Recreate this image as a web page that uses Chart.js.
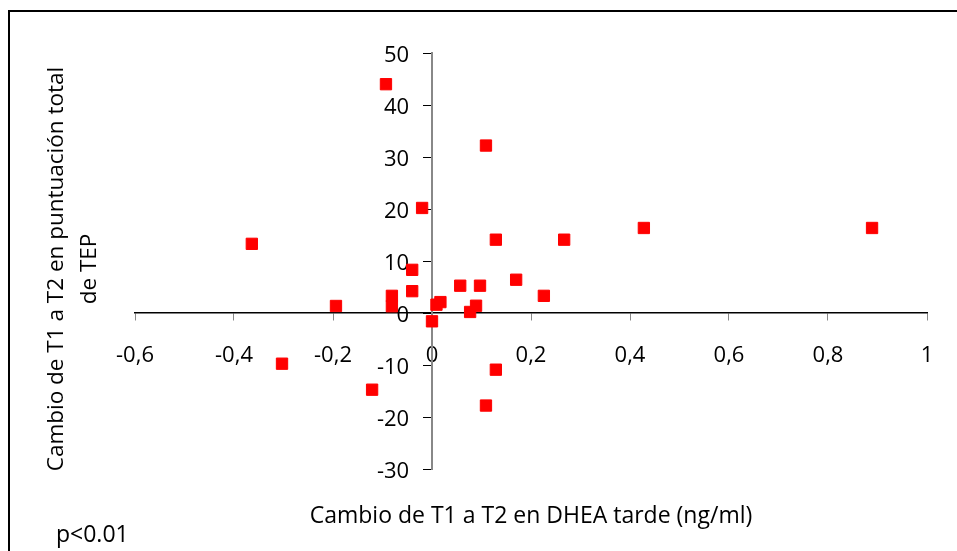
<!DOCTYPE html>
<html>
<head>
<meta charset="utf-8">
<script src="https://cdn.jsdelivr.net/npm/chart.js@4.4.1/dist/chart.umd.min.js"></script>
<style>
  html, body { margin: 0; padding: 0; background: #fff; }
  #wrap { position: relative; width: 957px; height: 551px; overflow: hidden; }
  #frame { position: absolute; left: 8px; top: 10px; width: 1000px; height: 600px; border: 2px solid #000; box-sizing: border-box; }
  canvas { position: absolute; left: 0; top: 0; }
  .txt { position: absolute; font-family: "Open Sans", sans-serif; font-size: 23px; color: #000; white-space: nowrap; }
  #ytitle { left: 71px; top: 269px; width: 480px; line-height: 33px; font-size: 22.5px; text-align: center;
            transform: translate(-50%, -50%) rotate(-90deg); }
  #xtitle { left: 531px; top: 514px; transform: translate(-50%, -50%); }
  #pval { left: 56px; top: 533px; transform: translateY(-50%); }
</style>
</head>
<body>
<div id="wrap">
  <div id="frame"></div>
  <canvas id="chart" width="957" height="551"></canvas>
  <div class="txt" id="ytitle">Cambio de T1 a T2 en puntuación total<br>de TEP</div>
  <div class="txt" id="xtitle">Cambio de T1 a T2 en DHEA tarde (ng/ml)</div>
  <div class="txt" id="pval">p&lt;0.01</div>
</div>
<script>
// datos: cambio DHEA tarde (x) vs cambio puntuación TEP (y)
const dheaChange = [-0.093, -0.364, -0.303, -0.194, -0.121, -0.081, -0.081, -0.040, -0.040, -0.020,
                    0.000, 0.009, 0.017, 0.057, 0.077, 0.089, 0.097, 0.109, 0.109, 0.129,
                    0.129, 0.170, 0.226, 0.267, 0.428, 0.889];
const tepChange = [44.0, 13.3, -9.75, 1.35, -14.75, 3.3, 1.3, 8.3, 4.2, 20.2,
                   -1.6, 1.6, 2.1, 5.25, 0.2, 1.4, 5.25, 32.2, -17.8, 14.1,
                   -10.9, 6.4, 3.3, 14.1, 16.35, 16.35];

// ejes
const xTicks = [-0.6, -0.4, -0.2, 0, 0.2, 0.4, 0.6, 0.8, 1];
const xTickLabels = ["-0,6", "-0,4", "-0,2", "0", "0,2", "0,4", "0,6", "0,8", "1"];
const yTicks = [-30, -20, -10, 0, 10, 20, 30, 40, 50];
const yTickLabels = ["-30", "-20", "-10", "0", "10", "20", "30", "40", "50"];

const FONT = { family: "'Open Sans', sans-serif", size: 22 };
// el eje y cruzado en x=0 alinea las etiquetas justo sobre la línea: se separan con espacios
const Y_LABEL_GAP = "    ";

const points = dheaChange.map((x, i) => ({ x: x, y: tepChange[i] }));

new Chart(document.getElementById("chart"), {
    type: "scatter",
    data: {
        datasets: [{
            data: points,
            pointStyle: "rect",
            pointRadius: 8,
            pointHoverRadius: 8,
            backgroundColor: "#ff0000",
            borderColor: "#ff0000",
            borderWidth: 1
        }]
    },
    options: {
        responsive: false,
        animation: false,
        events: [],
        layout: { padding: { left: 135, right: 30, top: 53, bottom: 82 } },
        plugins: { legend: { display: false }, tooltip: { enabled: false } },
        scales: {
            x: {
                type: "linear",
                position: { y: 0 },
                min: -0.6,
                max: 1,
                afterBuildTicks: s => { s.ticks = xTicks.map(v => ({ value: v })); },
                grid: { drawOnChartArea: false, drawTicks: true, tickLength: 7, tickColor: "#888" },
                border: { color: "#000", width: 1.5 },
                ticks: {
                    color: "#000",
                    font: FONT,
                    padding: 23,
                    maxRotation: 0,
                    autoSkip: false,
                    callback: (v) => xTickLabels[xTicks.indexOf(Math.round(v * 10) / 10)]
                }
            },
            y: {
                type: "linear",
                position: { x: 0 },
                min: -30,
                max: 50,
                afterBuildTicks: s => { s.ticks = yTicks.map(v => ({ value: v })); },
                grid: { drawOnChartArea: false, drawTicks: true, tickLength: 8, tickColor: "#000" },
                border: { color: "#888", width: 2 },
                ticks: {
                    color: "#000",
                    font: FONT,
                    labelOffset: 3,
                    autoSkip: false,
                    callback: (v) => yTickLabels[yTicks.indexOf(v)] + Y_LABEL_GAP
                }
            }
        }
    }
});
</script>
</body>
</html>
